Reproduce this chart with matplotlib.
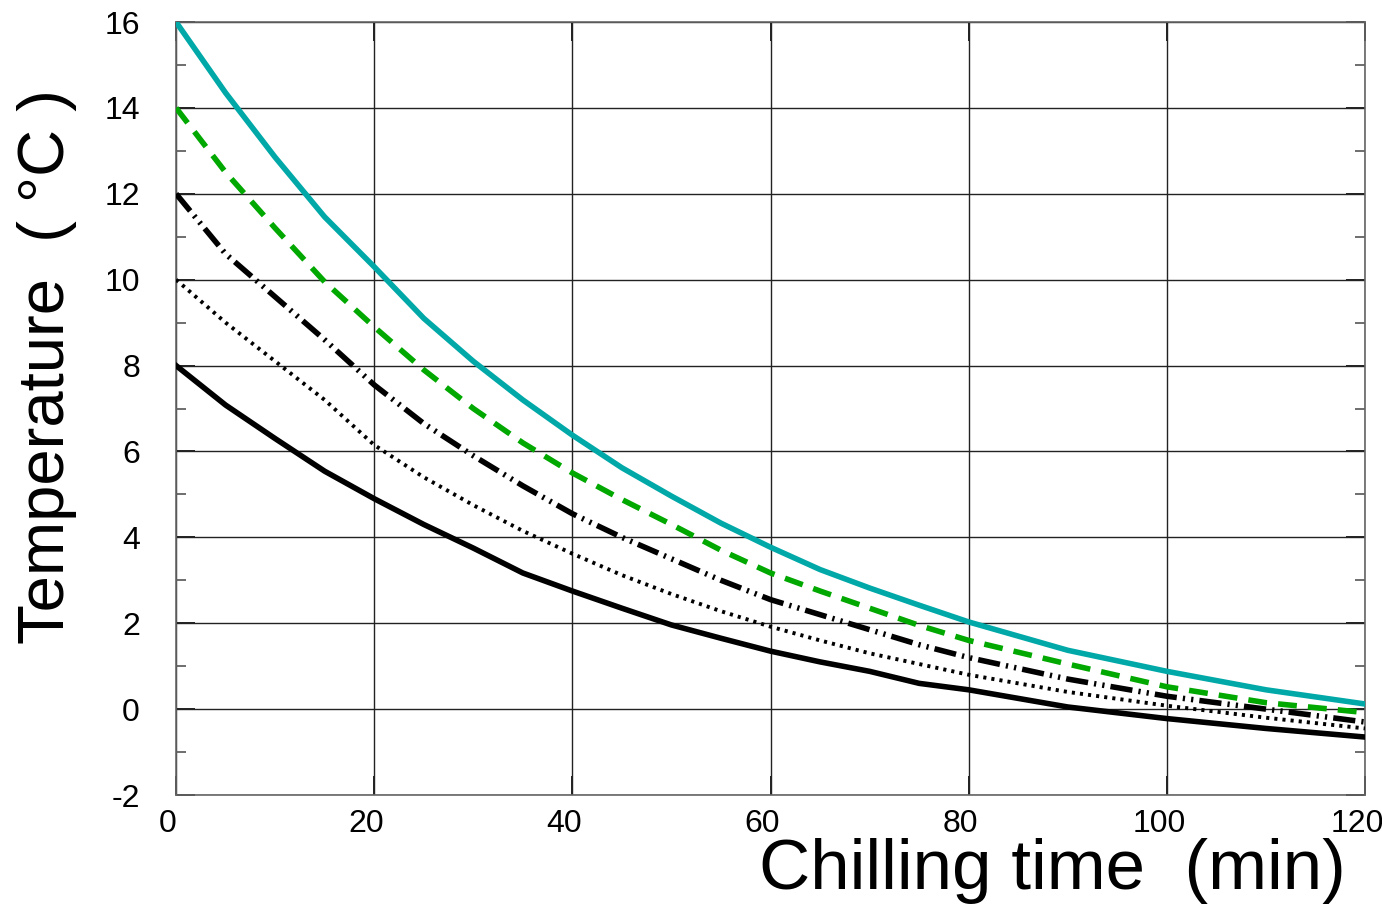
import matplotlib
matplotlib.use('Agg')
import matplotlib.pyplot as plt
import matplotlib.transforms as mtransforms

plt.rcParams['font.family'] = ['Liberation Sans', 'DejaVu Sans']

# chilling time (min)
t_a = [0, 5, 10, 15, 20, 25, 30, 35, 40, 45, 50, 55, 60, 65, 70, 75, 80, 90, 100, 110, 120]

# temperatures (deg C) for the five start temperatures
temp_16 = [16.0, 14.35, 12.85, 11.46, 10.3, 9.1, 8.1, 7.2, 6.38, 5.62, 4.96, 4.33, 3.77, 3.25, 2.82, 2.42, 2.03, 1.37, 0.88, 0.45, 0.12]
temp_14 = [14.0, 12.5, 11.2, 9.95, 8.9, 7.9, 7.0, 6.2, 5.5, 4.88, 4.3, 3.7, 3.17, 2.75, 2.35, 1.95, 1.6, 1.05, 0.52, 0.15, -0.08]
temp_12 = [12.0, 10.6, 9.6, 8.6, 7.55, 6.65, 5.9, 5.2, 4.55, 4.0, 3.5, 3.0, 2.55, 2.2, 1.85, 1.5, 1.2, 0.7, 0.3, 0.0, -0.3]
temp_10 = [10.0, 9.0, 8.1, 7.2, 6.15, 5.4, 4.75, 4.15, 3.62, 3.12, 2.68, 2.28, 1.92, 1.6, 1.3, 1.05, 0.8, 0.4, 0.08, -0.2, -0.45]
temp_08 = [8.0, 7.08, 6.3, 5.54, 4.9, 4.3, 3.75, 3.17, 2.75, 2.35, 1.96, 1.65, 1.35, 1.1, 0.88, 0.6, 0.45, 0.05, -0.22, -0.45, -0.65]

x_ticks = [0, 20, 40, 60, 80, 100, 120]
y_ticks = [-2, 0, 2, 4, 6, 8, 10, 12, 14, 16]

fig = plt.figure(figsize=(13.82, 9.06), dpi=100)
ax = fig.add_axes([0.1274, 0.1225, 0.8603, 0.8532])

ax.plot(t_a, temp_16, color='#00a8a8', lw=4.0, solid_joinstyle='round', zorder=5)
ax.plot(t_a, temp_14, color='#00a800', lw=4.0, linestyle=(0, (3.4, 2.0)), zorder=5)
ax.plot(t_a, temp_12, color='black', lw=4.0, linestyle=(0, (4, 1.1, 0.4, 1.1, 0.4, 1.1)), zorder=5)
ax.plot(t_a, temp_10, color='black', lw=2.8, linestyle=(0, (0.8, 1.3)), zorder=5)
ax.plot(t_a, temp_08, color='black', lw=4.0, zorder=5)

ax.set_xlim(0, 120)
ax.set_ylim(-2, 16)
ax.set_xticks(x_ticks)
ax.set_yticks(y_ticks)
ax.set_yticks([-1, 1, 3, 5, 7, 9, 11, 13, 15], minor=True)
ax.set_yticklabels([str(v) for v in y_ticks])
ax.set_xticklabels([str(v) for v in x_ticks])

ax.grid(True, which='major', color='#222222', lw=1.0)
ax.set_axisbelow(True)

for s in ax.spines.values():
    s.set_color('#666666')
    s.set_linewidth(1.2)

ax.tick_params(axis='both', which='major', direction='in', length=14, width=1.4,
               color='#222222', top=True, right=True, labelsize=23)
ax.tick_params(axis='y', which='minor', direction='in', length=7, width=1.2,
               color='#555555', left=True, right=True)
ax.tick_params(axis='y', which='major', pad=26)
ax.tick_params(axis='x', which='major', pad=10)

# shift x tick labels slightly left like the original
offset = mtransforms.ScaledTranslation(-8 / 100, 0, fig.dpi_scale_trans)
for lab in ax.get_xticklabels():
    lab.set_transform(lab.get_transform() + offset)

fig.text(0.974, 0.039, 'Chilling time  (min)', fontsize=51, ha='right', va='center')
fig.text(0.034, 0.595, 'Temperature  ( °C )', fontsize=47, rotation=90, ha='center', va='center')

fig.savefig('out.png', dpi=100)
